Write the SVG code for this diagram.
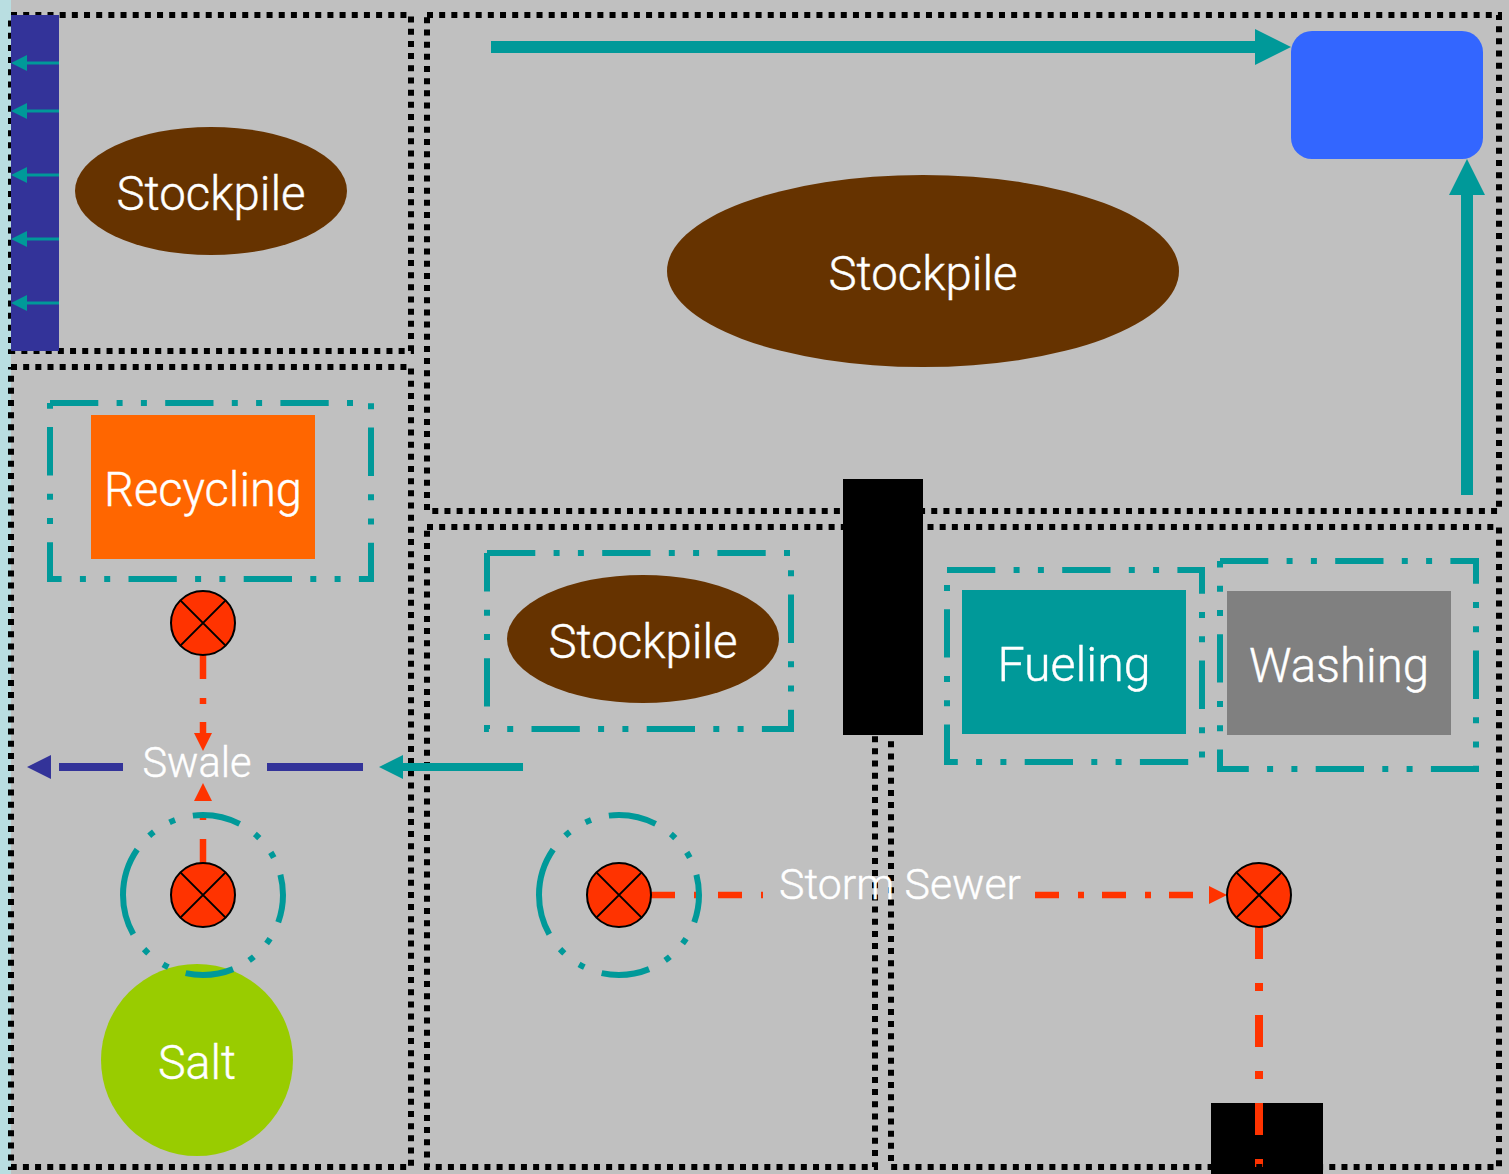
<svg xmlns="http://www.w3.org/2000/svg" xmlns:xlink="http://www.w3.org/1999/xlink" width="1509" height="1174" viewBox="0 0 1509 1174">
<style>
.zone{fill:none;stroke:#000;stroke-width:6;stroke-dasharray:6 6.17}
.bund{fill:none;stroke:#009999;stroke-width:6;stroke-dasharray:48.3 18.3 6 18.3 6 18.3}
.t{font-family:"Roboto","Liberation Sans",sans-serif;font-weight:300;fill:#fff;stroke:#fff;stroke-width:.4;font-size:48px;text-anchor:middle}
.s{font-size:42px}
.teal{stroke:#009999;fill:none}
.blue{stroke:#333399;fill:none;stroke-width:8}
.red{stroke:#FF3300;fill:none;stroke-width:6.5;stroke-dasharray:24 19 6 18}
.ht{fill:#009999}.hb{fill:#333399}.hr{fill:#FF3300}
.brown{fill:#663300}
</style>
<defs>
<g id="valve"><circle r="32" fill="#FF3300" stroke="#000" stroke-width="2"/><path d="M-22.6-22.6L22.6 22.6M22.6-22.6L-22.6 22.6" stroke="#000" stroke-width="2" fill="none"/></g>
<path id="ring" class="bund" d="M-80 0A80 80 0 1 1 80 0A80 80 0 1 1-80 0Z"/>
<g id="wallarrow"><path d="M27 0H59" stroke="#009999" stroke-width="3"/><polygon class="ht" points="11,0 27,-8 27,8"/></g>
</defs>
<rect width="1509" height="1174" fill="#C0C0C0"/>
<rect width="11" height="1174" fill="#B9DEE1"/>
<g id="zone-a"><path class="zone" d="M11 15H411V351H11V15"/></g>
<g id="zone-b"><path class="zone" d="M427 15H1499V511H427V15"/></g>
<g id="zone-c"><path class="zone" d="M11 367H411V1167H11V367"/></g>
<g id="zone-d"><path class="zone" d="M427 527H875V1167H427V527"/></g>
<g id="wall"><rect x="11" y="15" width="48" height="336" fill="#333399"/></g>
<g id="pond"><rect x="1291" y="31" width="192" height="128" rx="21" fill="#3366FF"/></g>
<g id="stockpile-1"><ellipse class="brown" cx="211" cy="191" rx="136" ry="64"/><text class="t" x="211" y="210" textLength="189" lengthAdjust="spacingAndGlyphs">Stockpile</text></g>
<g id="stockpile-2"><ellipse class="brown" cx="923" cy="271" rx="256" ry="96"/><text class="t" x="923" y="290" textLength="189" lengthAdjust="spacingAndGlyphs">Stockpile</text></g>
<g id="stockpile-3"><path class="bund" d="M487 553H791V729H487V553"/><ellipse class="brown" cx="643" cy="639" rx="136" ry="64"/><text class="t" x="643" y="658" textLength="189" lengthAdjust="spacingAndGlyphs">Stockpile</text></g>
<g id="recycling"><path class="bund" d="M50 403H371V579H50V403"/><rect x="91" y="415" width="224" height="144" fill="#FF6600"/><text class="t" x="203" y="506" textLength="198" lengthAdjust="spacingAndGlyphs">Recycling</text></g>
<g id="fueling"><path class="bund" d="M947 570H1202V762H947V570"/><rect x="962" y="590" width="224" height="144" fill="#009999"/><text class="t" x="1074" y="681" textLength="153" lengthAdjust="spacingAndGlyphs">Fueling</text></g>
<g id="washing"><path class="bund" d="M1220 561H1476V769H1220V561"/><rect x="1227" y="591" width="224" height="144" fill="#808080"/><text class="t" x="1339" y="682" textLength="180" lengthAdjust="spacingAndGlyphs">Washing</text></g>
<g id="salt"><circle cx="197" cy="1060" r="96" fill="#99CC00"/><text class="t" x="197" y="1079" textLength="78" lengthAdjust="spacingAndGlyphs">Salt</text></g>
<g id="culvert"><rect x="843" y="479" width="80" height="256" fill="#000"/></g>
<g id="outfall"><rect x="1211" y="1103" width="112" height="71" fill="#000"/></g>
<g id="connectors">
<use xlink:href="#wallarrow" href="#wallarrow" y="63"/>
<use xlink:href="#wallarrow" href="#wallarrow" y="111"/>
<use xlink:href="#wallarrow" href="#wallarrow" y="175"/>
<use xlink:href="#wallarrow" href="#wallarrow" y="239"/>
<use xlink:href="#wallarrow" href="#wallarrow" y="303"/>
<path class="teal" stroke-width="12" d="M491 47H1255"/><polygon class="ht" points="1291,47 1255,29 1255,65"/>
<path class="teal" stroke-width="12" d="M1467 495V195"/><polygon class="ht" points="1467,159 1449,195 1485,195"/>
<path class="blue" d="M59 767H123M267 767H363"/><polygon class="hb" points="27,767 51,755 51,779"/>
<path class="teal" stroke-width="8" d="M523 767H403"/><polygon class="ht" points="379,767 403,755 403,779"/>
<path class="red" d="M203 655V733"/><polygon class="hr" points="203,751 194,733 212,733"/>
<path class="red" d="M203 863V801"/><polygon class="hr" points="203,783 194,801 212,801"/>
<path class="red" d="M651 895H763"/>
<path class="red" d="M1035 895H1209"/><polygon class="hr" points="1227,895 1209,886 1209,904"/>
<path class="red" style="stroke-width:8;stroke-dasharray:32 24 8 24" d="M1259 927V1174"/>
</g>
<g id="valve-1"><use xlink:href="#valve" href="#valve" x="203" y="623"/></g>
<g id="valve-2"><use xlink:href="#ring" href="#ring" x="203" y="895"/><use xlink:href="#valve" href="#valve" x="203" y="895"/></g>
<g id="valve-3"><use xlink:href="#ring" href="#ring" x="619" y="895"/><use xlink:href="#valve" href="#valve" x="619" y="895"/></g>
<g id="valve-4"><use xlink:href="#valve" href="#valve" x="1259" y="895"/></g>
<g id="zone-e"><path class="zone" d="M891 527H1499V1167H891V527"/></g>
<g id="labels">
<text class="t s" x="197" y="777" textLength="109" lengthAdjust="spacingAndGlyphs">Swale</text>
<text class="t s" x="900" y="899" textLength="242" lengthAdjust="spacingAndGlyphs">Storm Sewer</text>
</g>
</svg>
